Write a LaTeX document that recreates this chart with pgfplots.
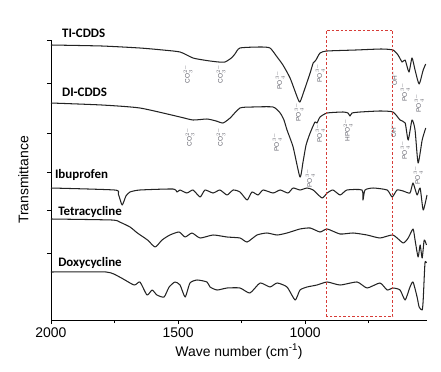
\documentclass[border=0pt]{standalone}
\usepackage{pgfplots}
\pgfplotsset{compat=1.18}
\usepackage{fontspec}
\setmainfont{Liberation Sans}
\newfontfamily\lblfont{Carlito}
\definecolor{spec}{RGB}{35,35,35}
\definecolor{boxred}{RGB}{215,60,55}
\definecolor{anno}{RGB}{95,95,105}
\begin{document}
\begin{tikzpicture}
\begin{axis}[
  scale only axis, width=376bp, height=280bp,
  x dir=reverse, xmin=520, xmax=2000, ymin=0, ymax=280,
  axis x line*=bottom, axis y line*=left,
  xtick={2000,1500,1000}, minor xtick={1750,1250,750},
  ytick={67,110,148,187,237,280}, yticklabels={},
  tick align=outside, major tick length=4bp, minor tick length=3bp,
  tick style={black, line width=0.8pt},
  axis line style={black, line width=0.9pt},
  ticklabel style={font=\fontsize{14}{16}\selectfont},
  /pgf/number format/assume math mode=true,
  /pgf/number format/1000 sep={},
  xlabel={Wave number (cm\textsuperscript{-1})},
  ylabel={Transmittance},
  label style={font=\fontsize{14}{16}\selectfont},
  xlabel style={yshift=0bp},
  ylabel style={yshift=8bp},
  clip=false,
  cycle list={{spec, no marks}},
  every axis plot post/.append style={spec, line width=1.05pt, line join=round, smooth, tension=0.35},
]
% TI-CDDS
\addplot coordinates {(2000,275)(1800,274)(1650,272)(1560,270)(1492,268)(1441,262)(1400,260)(1374,259)(1340,258)(1315,258)(1290,262)(1276,266)(1256,272)(1177,273)(1138,272)(1110,263)(1087,255)(1059,242)(1031,223)(1020,218)(1000,232)(980,247)(968,257)(957,260)(941,267)(913,269)(800,270)(700,271)(654,270)(634,265)(618,258)(606,260)(591,248)(579,262)(567,250)(551,236)(535,250)(525,256)};
% DI-CDDS
\addplot coordinates {(2000,217)(1800,215)(1650,212)(1492,203)(1441,200)(1386,201)(1350,199)(1323,197)(1295,202)(1256,212)(1205,213)(1126,213)(1098,207)(1083,200)(1071,190)(1047,173)(1020,143)(1008,158)(996,175)(980,187)(961,198)(953,197)(941,203)(913,207)(850,208)(831,207)(823,204)(815,207)(783,208)(705,209)(654,208)(626,200)(606,197)(594,180)(579,200)(567,190)(555,157)(539,180)(525,192)};
% Ibuprofen
\addplot coordinates {(2000,132)(1750,130)(1735,126)(1720,115)(1705,124)(1689,128)(1650,130)(1520,131)(1504,128)(1492,130)(1465,127)(1441,130)(1413,123)(1394,130)(1362,127)(1335,130)(1307,125)(1283,130)(1256,128)(1228,120)(1209,128)(1185,125)(1165,130)(1126,127)(1098,130)(1067,127)(1047,132)(1020,130)(992,132)(968,130)(933,122)(913,127)(890,130)(862,125)(835,130)(776,130)(772,120)(764,130)(732,132)(677,130)(657,123)(638,130)(614,129)(587,127)(575,137)(559,125)(547,132)(535,110)(520,125)};
% Tetracycline
\addplot coordinates {(2000,101)(1760,100)(1730,98)(1689,93)(1660,87)(1620,80)(1590,73)(1563,80)(1532,85)(1496,88)(1472,83)(1445,87)(1413,82)(1362,85)(1307,83)(1256,82)(1228,78)(1189,85)(1150,87)(1110,85)(1071,87)(1020,91)(980,92)(941,88)(913,91)(862,86)(811,87)(756,85)(705,82)(654,85)(614,77)(594,82)(575,91)(567,80)(555,63)(547,75)(539,62)(531,80)(522,75)};
% Doxycycline
\addplot coordinates {(2000,48)(1783,48)(1730,43)(1673,35)(1650,38)(1622,25)(1602,30)(1583,25)(1555,23)(1535,33)(1512,38)(1492,35)(1472,23)(1453,37)(1425,40)(1386,38)(1374,33)(1346,30)(1307,32)(1256,32)(1217,27)(1177,37)(1138,33)(1110,37)(1071,33)(1039,20)(1020,30)(992,33)(953,35)(913,38)(862,35)(795,38)(756,32)(705,37)(677,30)(654,32)(626,30)(606,20)(587,33)(575,38)(559,23)(551,13)(539,10)(535,20)(528,57)(522,57)};
% spectra labels
\node[anchor=west, inner sep=0pt, font=\lblfont\bfseries\fontsize{13}{15}\selectfont] at (axis cs:1957,287) {TI-CDDS};
\node[anchor=west, inner sep=0pt, font=\lblfont\bfseries\fontsize{13}{15}\selectfont] at (axis cs:1957,228) {DI-CDDS};
\node[anchor=west, inner sep=0pt, font=\lblfont\bfseries\fontsize{13}{15}\selectfont] at (axis cs:1985,145) {Ibuprofen};
\node[anchor=west, inner sep=0pt, font=\lblfont\bfseries\fontsize{13}{15}\selectfont] at (axis cs:1972,108) {Tetracycline};
\node[anchor=west, inner sep=0pt, font=\lblfont\bfseries\fontsize{13}{15}\selectfont] at (axis cs:1972,57) {Doxycycline};
\begin{scope}[every node/.style={rotate=90, anno, inner sep=0pt, font=\fontsize{6.5}{7}\selectfont}]
% TI-CDDS
\node at (axis cs:1461,246) {CO$_3^{2-}$};
\node at (axis cs:1331,246) {CO$_3^{2-}$};
\node at (axis cs:1098,240) {PO$_4^{3-}$};
\node at (axis cs:1024,208) {PO$_4^{3-}$};
\node at (axis cs:941,247) {PO$_4^{3-}$};
\node at (axis cs:650,242) {OH$^-$};
\node at (axis cs:606,228) {PO$_4^{3-}$};
\node at (axis cs:551,217) {PO$_4^{3-}$};
% DI-CDDS
\node at (axis cs:1453,183) {CO$_3^{2-}$};
\node at (axis cs:1331,183) {CO$_3^{2-}$};
\node at (axis cs:1110,178) {PO$_4^{3-}$};
\node at (axis cs:980,142) {PO$_4^{3-}$};
\node at (axis cs:941,187) {PO$_4^{3-}$};
\node at (axis cs:831,190) {HPO$_4^{2-}$};
\node at (axis cs:654,190) {OH$^-$};
\node at (axis cs:606,170) {PO$_4^{3-}$};
\node at (axis cs:555,145) {PO$_4^{3-}$};
\end{scope}
% red dashed box
\draw[boxred, line width=1pt, dash pattern=on 2.5pt off 2pt] (axis cs:917,4) rectangle (axis cs:654,290);
\end{axis}
\path (current axis.south west) ++(-51bp,-52bp) rectangle ++(441bp,372bp);
\end{tikzpicture}
\end{document}
